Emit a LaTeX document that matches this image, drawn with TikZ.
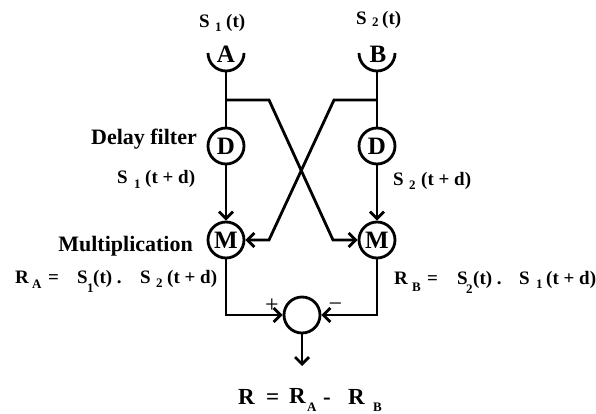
\documentclass[tikz,border=0pt]{standalone}
\usepackage{fontspec}
\setmainfont{Liberation Serif}
\usetikzlibrary{arrows.meta}
\tikzset{
  wire/.style={line width=2.8pt,line join=miter},
  arr/.style={wire,-{Straight Barb[length=7pt,width=14pt,line width=2.8pt]}},
  unit/.style={circle,draw,line width=2.8pt,minimum size=36pt,inner sep=0pt,font=\bfseries\fontsize{25}{25}\selectfont},
  dishlab/.style={inner sep=0pt,font=\bfseries\fontsize{25}{25}\selectfont},
  lab/.style={anchor=base west,font=\bfseries\fontsize{19}{19}\selectfont,inner sep=0pt},
  blocklab/.style={anchor=base east,font=\bfseries\fontsize{22}{22}\selectfont,inner sep=0pt},
  big/.style={anchor=base west,font=\bfseries\fontsize{23}{23}\selectfont,inner sep=0pt},
  sgn/.style={font=\fontsize{24}{24}\selectfont,inner sep=0pt},
  subs/.style={anchor=base west,font=\bfseries\fontsize{13}{13}\selectfont,inner sep=0pt}
}
\begin{document}
\begin{tikzpicture}[x=1pt,y=-1pt]
  \useasboundingbox (0,0) rectangle (596,414);
  % dishes
  \draw[wire] (208,53) arc[start angle=180,end angle=0,radius=18];
  \draw[wire] (359,53) arc[start angle=180,end angle=0,radius=18];
  \node[dishlab] (a) at (226,54) {A};
  \node[dishlab] (b) at (378,54) {B};
  \coordinate (afoot) at (226,71);
  \coordinate (bfoot) at (377,71);
  % units
  \node[unit] (d1) at (226,146) {D};
  \node[unit] (d2) at (377,146) {D};
  \node[unit] (m1) at (226,240) {M};
  \node[unit] (m2) at (377,240) {M};
  \node[unit] (sum) at (302,315) {};
  % wires
  \coordinate (aj) at (226,100);
  \coordinate (bj) at (377,100);
  \draw[wire] (afoot) -- (d1);
  \draw[wire] (bfoot) -- (d2);
  \draw[arr] (d1) -- (m1);
  \draw[arr] (d2) -- (m2);
  \draw[arr] (aj) -- (269,100) -- (333,240) -- (m2);
  \draw[arr] (bj) -- (334,100) -- (269,240) -- (m1);
  \draw[arr] (m1) -- (226,315) -- (sum);
  \draw[arr] (m2) -- (377,315) -- (sum);
  \coordinate (out) at (302,366);
  \draw[arr] (sum) -- (out);
  \node[sgn] (plus) at (272,306) {+};
  \node[sgn] (minus) at (335.5,307) {−};
  % labels
  \node[lab] (s1) at (199,28) {S};
  \node[subs] at (215,32) {1};
  \node[lab] at (226,28) {(t)};
  \node[lab] (s2) at (356,25) {S};
  \node[subs] at (372,27) {2};
  \node[lab] at (382,25) {(t)};
  \node[blocklab] (delay) at (197,145) {Delay filter};
  \node[blocklab] (mult) at (193,251) {Multiplication};
  % S1(t+d), S2(t+d)
  \node[lab] at (117,183) {S};
  \node[subs] at (134,188) {1};
  \node[lab] at (145,183) {(t + d)};
  \node[lab] at (393,185) {S};
  \node[subs] at (409,189) {2};
  \node[lab] at (421,185) {(t + d)};
  % RA
  \node[lab] at (15,283) {R};
  \node[subs] at (32,288) {A};
  \node[lab] at (48,283) {=};
  \node[lab] at (77,283) {S};
  \node[subs] at (87,292) {1};
  \node[lab] at (93,283) {(t) .};
  \node[lab] at (140,283) {S};
  \node[subs] at (156,287) {2};
  \node[lab] at (167,283) {(t + d)};
  % RB
  \node[lab] at (394,284) {R};
  \node[subs] at (412,291) {B};
  \node[lab] at (427,284) {=};
  \node[lab] at (457,284) {S};
  \node[subs] at (466,293) {2};
  \node[lab] at (473,284) {(t) .};
  \node[lab] at (519,284) {S};
  \node[subs] at (536,288) {1};
  \node[lab] at (546,284) {(t + d)};
  % R
  \node[big] at (238,404) {R};
  \node[big] at (266,404) {=};
  \node[big] at (289,403) {R};
  \node[subs] at (307,411.5) {A};
  \node[big] at (323,404) {-};
  \node[big] at (348,404) {R};
  \node[subs] at (373,411.5) {B};
\end{tikzpicture}
\end{document}
